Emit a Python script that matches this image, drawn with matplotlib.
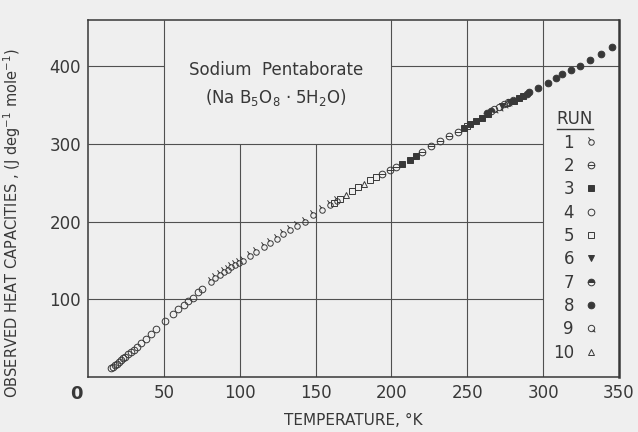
import matplotlib
matplotlib.use("Agg")
import matplotlib.pyplot as plt
from matplotlib.path import Path
from matplotlib.lines import Line2D

plt.rcParams["font.family"] = ["DejaVu Sans"]
plt.rcParams["mathtext.default"] = "regular"

ink = "#383838"
paper = "#efefef"

# Observed heat capacities: T in K, Cp in J/(deg mole)
run1_t = [81, 84, 87, 89.5, 92, 94.5, 97, 99.5, 102.5, 107, 111, 115.7, 120,
          124.5, 128.5, 133, 138, 143, 148.6, 154, 159.7, 164]
run1_cp = [122, 127, 131, 134.5, 138, 141, 144, 147, 149, 156, 161, 167, 173,
           178, 183.5, 189, 194, 200, 208, 214.5, 221, 226]

run2_t = [194, 199, 203, 220, 226, 232, 238, 244]
run2_cp = [261, 266, 270, 289.5, 297, 303.7, 310, 316]

run3_t = [207, 212, 216, 248, 252, 256, 260, 264, 281, 284, 287]
run3_cp = [274, 280, 284.5, 321, 325.5, 330, 334, 338.5, 356, 359, 362]

run4_t = [15.2, 16.4, 17.6, 18.8, 20.1, 21.5, 23.0, 24.6, 26.3, 28.0, 30.0,
          32.3, 35.0, 38.0, 41.5, 45.0, 50.5, 55.8, 59.6, 63.0, 66.0, 69.0,
          72.6, 75.2]
run4_cp = [11, 12.8, 14.6, 16.6, 18.7, 21, 23.5, 26, 28.8, 31.5, 35, 38.5, 43,
           48, 55, 62, 72, 81, 87.5, 92, 97, 102, 109, 112.5]

run5_t = [162, 166, 174, 178, 186, 190, 250]
run5_cp = [224, 229, 239, 244, 253.5, 258, 323]

run6_t = [273, 278]
run6_cp = [349.5, 354.5]

run7_t = [263, 266]
run7_cp = [340, 343]

run8_t = [289.4, 291, 297, 303, 308.8, 312.5, 318.5, 324.6, 330.7, 338, 345.5]
run8_cp = [364.7, 366.8, 372.5, 378, 384.8, 389.6, 395.6, 401, 408.5, 416, 424.7]

run9_t = [268, 271, 274, 277, 280]
run9_cp = [345, 348, 351, 354, 357]

run10_t = [170, 182, 276]
run10_cp = [234, 248.5, 353]

x_ticks = [50, 100, 150, 200, 250, 300, 350]
y_ticks = [100, 200, 300, 400]


# special marker shapes
circle = Path.unit_circle()
tailed = Path.make_compound_path(circle, Path([(-0.4, 0.9), (-1.1, 1.9)],
                                              [Path.MOVETO, Path.LINETO]))
barred = Path.make_compound_path(circle, Path([(-1, 0), (1, 0)],
                                              [Path.MOVETO, Path.LINETO]))
q_mark = Path.make_compound_path(circle, Path([(0.4, -0.4), (1.2, -1.2)],
                                              [Path.MOVETO, Path.LINETO]))

runs = [
    ("1", run1_t, run1_cp, dict(marker=tailed, ms=7.5, mfc="none")),
    ("2", run2_t, run2_cp, dict(marker=barred, ms=4.8, mfc="none")),
    ("3", run3_t, run3_cp, dict(marker="s", ms=4.3, mfc=ink)),
    ("4", run4_t, run4_cp, dict(marker="o", ms=4.8, mfc="none")),
    ("5", run5_t, run5_cp, dict(marker="s", ms=4.3, mfc="none")),
    ("6", run6_t, run6_cp, dict(marker="v", ms=4.8, mfc=ink)),
    ("7", run7_t, run7_cp, dict(marker="o", ms=4.8, fillstyle="top", mfc=ink,
                                mfcalt="none")),
    ("8", run8_t, run8_cp, dict(marker="o", ms=4.8, mfc=ink)),
    ("9", run9_t, run9_cp, dict(marker=q_mark, ms=5.5, mfc="none")),
    ("10", run10_t, run10_cp, dict(marker="^", ms=4.8, mfc="none")),
]

fig = plt.figure(figsize=(6.38, 4.32), dpi=100, facecolor=paper)
ax = fig.add_axes([0.138, 0.128, 0.832, 0.826], facecolor=paper)

# broken grid, left open behind the title and the run key
grid = dict(color="#505050", linewidth=0.8, zorder=1)
ax.vlines([50, 200, 250, 300], 0, 460, **grid)
ax.vlines([100, 150], 0, 300, **grid)
ax.hlines([100, 200, 300], 0, 300, **grid)
ax.hlines(400, 0, 50, **grid)
ax.hlines(400, 200, 350, **grid)

for label, t, cp, style in runs:
    ax.plot(t, cp, linestyle="none", color=ink, mec=ink, mew=0.7,
            label=label, zorder=3, **style)

ax.set_xlim(0, 350)
ax.set_ylim(0, 460)
ax.set_xticks(x_ticks)
ax.set_yticks(y_ticks)
ax.tick_params(length=0, labelsize=12, labelcolor=ink, pad=5)
for side in ["left", "bottom", "top"]:
    ax.spines[side].set_color(ink)
    ax.spines[side].set_linewidth(1.1)
ax.spines["right"].set_color(ink)
ax.spines["right"].set_linewidth(1.8)

ax.annotate("0", xy=(0, 0), xycoords="axes fraction", xytext=(-4, -6),
            textcoords="offset points", ha="right", va="top",
            fontsize=13, fontweight="bold", color=ink)

ax.set_xlabel("TEMPERATURE, °K", fontsize=11, color=ink, labelpad=8)
ax.set_ylabel("OBSERVED HEAT CAPACITIES , (J deg$^{-1}$ mole$^{-1}$)",
              fontsize=10.5, color=ink)
ax.yaxis.set_label_coords(-0.123, 0.43)

ax.text(124, 396, "Sodium  Pentaborate", ha="center", va="center",
        fontsize=12, color=ink)
ax.text(124, 360, "(Na B$_5$O$_8$ · 5H$_2$O)", ha="center", va="center",
        fontsize=12, color=ink)

leg = ax.legend(title="RUN", loc="upper right", bbox_to_anchor=(0.975, 0.77),
                frameon=False, markerfirst=False, fontsize=12,
                title_fontsize=12, handlelength=0.8, handletextpad=0.6,
                labelspacing=0.32, borderpad=0)
for txt in leg.get_texts():
    txt.set_color(ink)
    txt.set_ha("right")
leg.get_title().set_color(ink)

# underline the key title
fig.canvas.draw()
box = leg.get_title().get_window_extent()
fig.lines.append(Line2D([box.x0, box.x1], [box.y0 - 1, box.y0 - 1],
                        transform=None, color=ink, linewidth=1.0))

fig.savefig("out.png", dpi=100, facecolor=paper)
